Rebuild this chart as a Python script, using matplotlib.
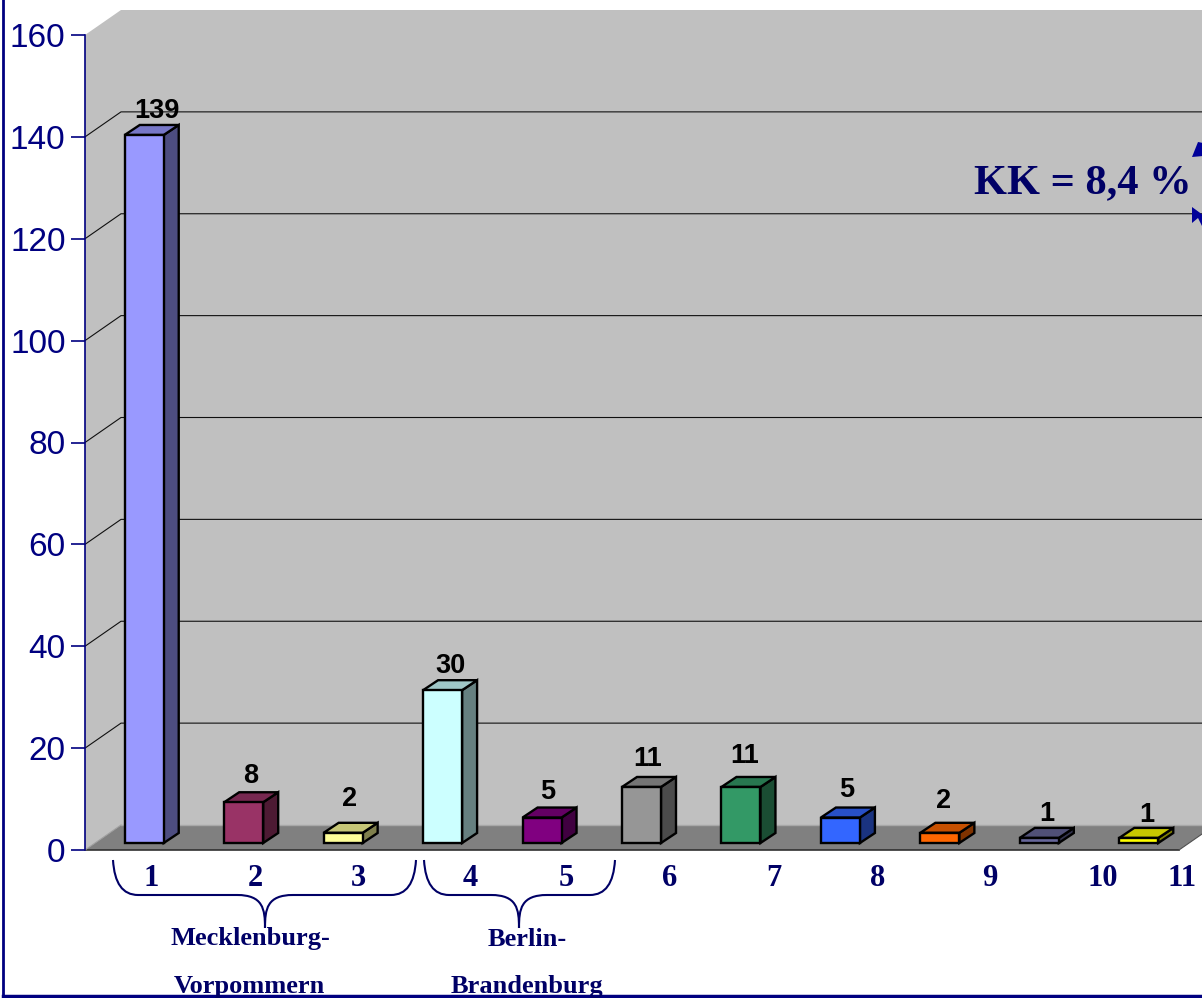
import numpy as np
import matplotlib
matplotlib.use("Agg")
import matplotlib.pyplot as plt
from matplotlib.path import Path
from matplotlib.patches import PathPatch


# DATA

categories = [1, 2, 3, 4, 5, 6, 7, 8, 9, 10, 11]
values = [139, 8, 2, 30, 5, 11, 11, 5, 2, 1, 1]
front_colors = ['#9999FF', '#993366', '#FFFF99', '#CCFFFF', '#800080', '#969696',
                '#339966', '#3366FF', '#FF6600', '#666699', '#FFFF00']
y_ticks = [0, 20, 40, 60, 80, 100, 120, 140, 160]
group_names = [("Mecklenburg-", "Vorpommern"), ("Berlin-", "Brandenburg")]
note = "KK = 8,4 %"


# LAYOUT (pixels of the 1202x998 picture)

W, H = 1202, 998
left, right, bottom, top = 85, 1179, 850, 35
navy = '#000080'
wall_dx, wall_dy = 36, 25
bar_w = 39
bar_dx, bar_dy = 15, 10
base_dx, base_dy = 9.5, 7
label_dx = [13, 7, 6, 8, 6, 6, 4, 6, 4, 7, 8]
label_dy = [24, 26, 34, 24, 26, 28, 31, 28, 32, 24, 23]
xlabel_px = [151, 255, 358, 470, 566, 670, 774, 878, 990, 1103, 1182]

fig = plt.figure(figsize=(W/100, H/100), dpi=100, facecolor='white')

ax = fig.add_axes([left/W, (H-bottom)/H, (right-left)/W, (bottom-top)/H])
ax.set_xlim(0.5, 11.5)
ax.set_ylim(0, 160)
ax.patch.set_visible(False)

# pixel sizes in data units
px_x = 11/(right-left)
px_y = 160/(bottom-top)


# WALLS AND FLOOR

wx, wy = wall_dx*px_x, wall_dy*px_y
x_end = 11.5 + 60*px_x

ax.fill([0.5, 0.5+wx, x_end, x_end, 0.5+wx, 0.5],
        [0, wy, wy, 160+wy, 160+wy, 160],
        color='#C0C0C0', lw=0, clip_on=False, zorder=1)
ax.fill([0.5, 11.5, 11.5+wx, 0.5+wx], [0, 0, wy, wy],
        color='#808080', lw=0, clip_on=False, zorder=2)
ax.plot([0.5+wx, x_end], [wy, wy], color='#A8A8A8', lw=1, clip_on=False, zorder=2)
ax.plot([0.5, 11.5], [0, 0], color='#303030', lw=1.2, clip_on=False, zorder=3)
ax.plot([11.5, 11.5+wx], [0, wy], color='#505050', lw=0.8, clip_on=False, zorder=3)
ax.plot([0.5, 0.5+wx], [0, wy], color='#A0A0A0', lw=0.8, clip_on=False, zorder=3)

for v in y_ticks[1:-1]:
    ax.plot([0.5, 0.5+wx, x_end], [v, v+wy, v+wy],
            color='#101010', lw=0.8, clip_on=False, zorder=2)


# BARS

def shade(color, f):
    rgb = np.array(matplotlib.colors.to_rgb(color))
    return tuple(rgb*f)

for i, (c, v) in enumerate(zip(categories, values)):
    col = front_colors[i]
    x0 = c + (base_dx - bar_w/2)*px_x
    x1 = x0 + bar_w*px_x
    y0 = base_dy*px_y
    y1 = y0 + v
    ddx, ddy = bar_dx*px_x, bar_dy*px_y

    ax.fill([x1, x1+ddx, x1+ddx, x1], [y0, y0+ddy, y1+ddy, y1],
            facecolor=shade(col, 0.5), edgecolor='black', lw=1.7, zorder=4, clip_on=False)
    ax.fill([x0, x1, x1+ddx, x0+ddx], [y1, y1, y1+ddy, y1+ddy],
            facecolor=shade(col, 0.78), edgecolor='black', lw=1.7, zorder=4, clip_on=False)
    ax.fill([x0, x1, x1, x0], [y0, y0, y1, y1],
            facecolor=col, edgecolor='black', lw=1.7, zorder=5, clip_on=False)

    ax.annotate(str(v), (c + base_dx*px_x, y1),
                xytext=(label_dx[i]*0.72, label_dy[i]*0.72), textcoords='offset points',
                ha='center', va='center', fontsize=19.5, fontweight='bold',
                family='Liberation Sans', color='black', zorder=6)


# AXES

for s in ['top', 'right', 'bottom']:
    ax.spines[s].set_visible(False)
ax.spines['left'].set_color(navy)
ax.spines['left'].set_linewidth(1.2)
ax.spines['left'].set_zorder(6)
ax.set_xticks([])
ax.set_yticks(y_ticks)
ax.tick_params(axis='y', colors=navy, length=10, width=1.2, pad=4, labelsize=24)
for lab in ax.get_yticklabels():
    lab.set_family('Liberation Sans')


# OVERLAY IN PIXELS: braces, text, frame

ov = fig.add_axes([0, 0, 1, 1])
ov.set_xlim(0, W)
ov.set_ylim(H, 0)
ov.axis('off')
ov.patch.set_visible(False)

serif = dict(family='Liberation Serif', fontweight='bold', color='#000066',
             ha='center', va='center')

for c, xp in zip(categories, xlabel_px):
    ov.text(xp, 878, str(c), fontsize=22, **serif)


def brace(x0, xm, x1, y0=860, y1=895, tip=928):
    verts = [(x0, y0), (x0+2, y1), (x0+25, y1),
             (xm-28, y1),
             (xm-2, y1), (xm, y1+14), (xm, tip),
             (xm, y1+14), (xm+2, y1), (xm+28, y1),
             (x1-25, y1),
             (x1-2, y1), (x1, y0)]
    codes = [Path.MOVETO, Path.CURVE3, Path.CURVE3,
             Path.LINETO,
             Path.CURVE4, Path.CURVE4, Path.CURVE4,
             Path.CURVE4, Path.CURVE4, Path.CURVE4,
             Path.LINETO,
             Path.CURVE3, Path.CURVE3]
    ov.add_patch(PathPatch(Path(verts, codes), fill=False, edgecolor='#000066', lw=1.5))


brace(113, 265, 416)
brace(424, 519, 615)

ov.text(250, 939, group_names[0][0], fontsize=19, **serif)
ov.text(249, 987, group_names[0][1], fontsize=19, **serif)
ov.text(527, 939, group_names[1][0], fontsize=19, **serif)
ov.text(527, 987, group_names[1][1], fontsize=19, **serif)

ov.text(1083, 183, note, fontsize=30.5, **serif)

# arrow heads running off the right edge
ov.fill([1192, 1198, 1203, 1203], [157, 142, 143, 156], color='#000099', lw=0)
ov.fill([1192, 1192, 1198, 1203, 1203], [207, 223, 218, 228, 215], color='#000099', lw=0)

ov.plot([3, 3], [0, 996], color=navy, lw=2, clip_on=False)
ov.plot([3, W], [996, 996], color=navy, lw=2.5, clip_on=False)

fig.savefig('out.png', dpi=100)
